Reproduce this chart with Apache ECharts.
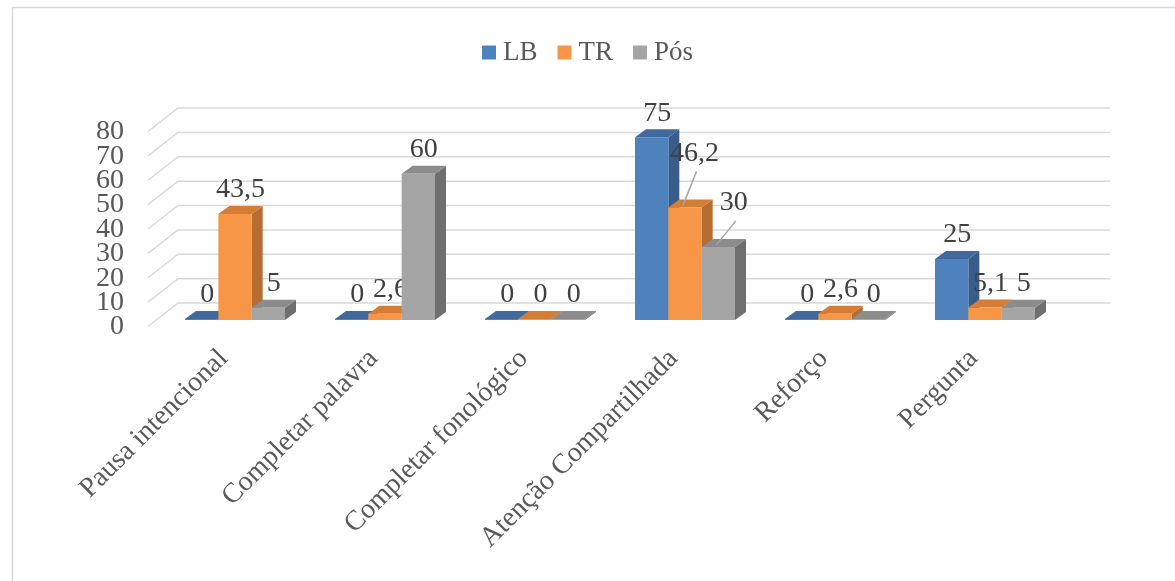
<!DOCTYPE html>
<html>
<head>
<meta charset="utf-8">
<script src="https://cdn.jsdelivr.net/npm/echarts@6/dist/echarts.min.js"></script>
<style>
  html, body { margin: 0; padding: 0; background: #fff; }
  #chart { width: 1175px; height: 581px; }
</style>
</head>
<body>
<div id="chart"></div>
<script>
// dados
const categories = ['Pausa intencional', 'Completar palavra', 'Completar fonológico', 'Atenção Compartilhada', 'Reforço', 'Pergunta'];
const seriesNames = ['LB', 'TR', 'Pós'];
const lbValues = [0, 0, 0, 75, 0, 25];
const trValues = [43.5, 2.6, 0, 46.2, 2.6, 5.1];
const posValues = [5, 60, 0, 30, 0, 5];
const yTicks = [0, 10, 20, 30, 40, 50, 60, 70, 80];

// cores: frente, lado, topo
const palette = [
    ['#4f81bd', '#385d8a', '#41699c'],
    ['#f79646', '#b66d31', '#d47d36'],
    ['#a5a5a5', '#6f6f6f', '#8c8c8c']
];

const GRID_LEFT = 160;
const DEPTH_X = 11, DEPTH_Y = -8;   // profundidade das barras
const FONT = "'Liberation Serif', 'DejaVu Serif', serif";

// rótulos arrastados no original (seriesIndex-catIndex -> [dx, dy])
const movedLabels = { '1-3': [4, -30], '2-3': [10, -20] };

const chart = echarts.init(document.getElementById('chart'));

function fmt(v) { return String(v).replace('.', ','); }

// linhas de grade em perspectiva + rótulos do eixo y
function renderGrid(params, api) {
    const v = api.value(0);
    const y = api.coord([0, v])[1];
    const x0 = GRID_LEFT - 12, x1 = GRID_LEFT + 18, x2 = 1110;
    return {
        type: 'group',
        children: [
            { type: 'polyline', shape: { points: [[x0, y + 6.5], [x1, y - 17], [x2, y - 17]] },
              style: { stroke: '#d9d9d9', lineWidth: 1.5, fill: null } },
            { type: 'text', style: { x: 124, y: y + 7, text: String(v), font: '28px ' + FONT,
              fill: '#595959', align: 'right', verticalAlign: 'middle' } }
        ]
    };
}

function renderBar(params, api) {
    const si = params.seriesIndex - 1;
    const ci = api.value(0);
    const v = api.value(1);
    const top = api.coord([ci, v]);
    const base = api.coord([ci, 0]);
    const band = api.size([1, 0])[0];
    const bw = band * 2 / 9;
    const xl = top[0] - 1.5 * bw + si * bw;
    const xr = xl + bw;
    const yt = Math.min(top[1], base[1] - 1);
    const yb = base[1];
    const col = palette[si];
    const children = [
        { type: 'polygon', shape: { points: [[xr, yt], [xr + DEPTH_X, yt + DEPTH_Y], [xr + DEPTH_X, yb + DEPTH_Y], [xr, yb]] },
          style: { fill: col[1] } },
        { type: 'polygon', shape: { points: [[xl, yt], [xl + DEPTH_X, yt + DEPTH_Y], [xr + DEPTH_X, yt + DEPTH_Y], [xr, yt]] },
          style: { fill: col[2] } },
        { type: 'rect', shape: { x: xl, y: yt, width: bw, height: yb - yt }, style: { fill: col[0] } }
    ];
    let lx = (xl + xr) / 2 + DEPTH_X / 2;
    let ly = yt - 10;
    const mv = movedLabels[si + '-' + ci];
    if (mv) {
        lx += mv[0]; ly += mv[1];
        children.push({ type: 'line', shape: { x1: lx + 2, y1: ly + 4, x2: (xl + xr) / 2 - 2, y2: yt + DEPTH_Y / 2 + 2 },
            style: { stroke: '#a6a6a6', lineWidth: 1.5 } });
    }
    children.push({ type: 'text', style: { x: lx, y: ly, text: fmt(v), font: '28px ' + FONT,
        fill: '#404040', align: 'center', verticalAlign: 'bottom' } });
    return { type: 'group', children: children };
}

const valueSets = [lbValues, trValues, posValues];

const series = [{
    type: 'custom',
    name: 'grade',
    renderItem: renderGrid,
    data: yTicks.map(t => [t]),
    encode: { y: 0 },
    silent: true,
    z: 1
}];
valueSets.forEach((vals, i) => {
    series.push({
        type: 'custom',
        name: seriesNames[i],
        renderItem: renderBar,
        itemStyle: { color: palette[i][0] },
        data: vals.map((v, ci) => [ci, v]),
        encode: { x: 0, y: 1 },
        z: 2
    });
});

chart.setOption({
    animation: false,
    graphic: [{
        type: 'rect', left: 10, top: 5, shape: { width: 1180, height: 600 },
        style: { fill: null, stroke: '#d9d9d9', lineWidth: 1.5 }, z: 0
    }],
    legend: {
        data: seriesNames,
        top: 34,
        left: 'center',
        icon: 'rect',
        itemWidth: 14,
        itemHeight: 14,
        itemGap: 20,
        textStyle: { fontFamily: FONT, fontSize: 27, color: '#595959', padding: [0, 0, 0, 2] }
    },
    grid: { left: GRID_LEFT, right: 115, top: 125, bottom: 261 },
    xAxis: {
        type: 'category',
        data: categories,
        axisLine: { show: false },
        axisTick: { show: false },
        axisLabel: { rotate: 45, margin: 23, interval: 0, padding: [0, 16, 0, 0],
            fontFamily: FONT, fontSize: 28, color: '#595959' }
    },
    yAxis: {
        type: 'value',
        min: 0, max: 80, interval: 10,
        axisLabel: { show: false },
        splitLine: { show: false }
    },
    series: series
});
</script>
</body>
</html>
